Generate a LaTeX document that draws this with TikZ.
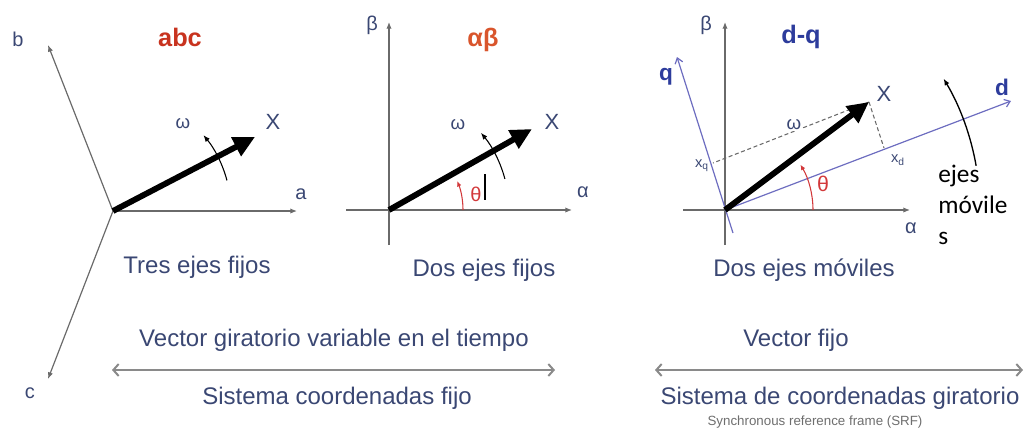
\documentclass[tikz,border=0pt]{standalone}
\usepackage{fontspec}
\setmainfont{Liberation Sans}
\newfontfamily\calfont{Carlito}
\usetikzlibrary{arrows.meta,calc}
\definecolor{lbl}{HTML}{3A4773}
\definecolor{axisgray}{HTML}{6A6A6A}
\definecolor{redlbl}{HTML}{C8331F}
\definecolor{orangelbl}{HTML}{D9552C}
\definecolor{bluelbl}{HTML}{2D3C9C}
\definecolor{dqaxis}{HTML}{6D6DC0}
\definecolor{thetared}{HTML}{D2383A}
\definecolor{botgray}{HTML}{8A8A8A}
\tikzset{
  axis/.style={draw=axisgray, line width=0.9pt, -{Latex[length=5pt,width=4pt]}},
  dqax/.style={draw=dqaxis, line width=0.9pt, -{Straight Barb[length=4pt,width=6pt]}},
  vec/.style={line width=4.4pt, -{Triangle[length=16pt,width=15pt]}},
  rot/.style={line width=0.8pt, -{Latex[length=5pt,width=4pt]}},
  thetaarc/.style={draw=thetared, line width=0.8pt, -{Latex[length=4pt,width=3.5pt]}},
  lab/.style={text=lbl, font=\fontsize{15}{17}\selectfont, inner sep=1pt},
  omg/.style={text=lbl, font=\fontsize{14}{16}\selectfont, inner sep=1pt},
  bigx/.style={text=lbl, font=\fontsize{16.5}{19}\selectfont, inner sep=1pt},
  captxt/.style={text=lbl, font=\fontsize{18}{21}\selectfont, inner sep=1pt},
  title/.style={font=\fontsize{19}{22}\selectfont\bfseries, inner sep=1pt},
  bigarr/.style={draw=botgray, line width=1.5pt, {Straight Barb[length=4pt,width=9pt]}-{Straight Barb[length=4pt,width=9pt]}},
}
\begin{document}
\begin{tikzpicture}[x=0.75pt,y=-0.75pt]
\useasboundingbox (0,0) rectangle (1026,437);
% ---------- panel 1: abc ----------
\coordinate (O1) at (113,211);
\coordinate (A1) at (297,211);
\coordinate (B1) at (48,45);
\coordinate (C1) at (48,379);
\coordinate (X1) at (255,137);
\draw[axis] (O1) -- (A1);
\draw[axis] (O1) -- (B1);
\draw[axis] (O1) -- (C1);
\draw[vec] (O1) -- (X1);
\draw[rot] ($(O1)+(-15:118)$) arc[start angle=-15, end angle=-40, radius=118];
\node[lab] (la) at (301,194) {a};
\node[lab] (lb) at (18,39) {b};
\node[lab] (lc) at (30,393) {c};
\node[bigx] (lX1) at (273,122) {X};
\node[omg] (lw1) at (183,124) {ω};
\node[title, text=redlbl] (t1) at (180,37) {abc};
\node[captxt] (cap1) at (197,267) {Tres ejes fijos};
% ---------- panel 2: alpha beta ----------
\coordinate (O2) at (389,210);
\coordinate (A2s) at (346,210);
\coordinate (A2) at (572,210);
\coordinate (B2s) at (389,245);
\coordinate (B2) at (389,22);
\coordinate (X2) at (532,129);
\draw[axis] (A2s) -- (A2);
\draw[axis] (B2s) -- (B2);
\draw[vec] (O2) -- (X2);
\draw[rot] ($(O2)+(-15:120)$) arc[start angle=-15, end angle=-40, radius=120];
\draw[thetaarc] ($(O2)+(0:74)$) arc[start angle=0, end angle=-23, radius=74];
\coordinate (tk1) at (485,174);
\coordinate (tk2) at (485,200);
\draw[line width=0.8pt] (tk1) -- (tk2);
\node[lab, text=thetared] (th2) at (476,194) {θ};
\node[lab] (lal2) at (583,192) {α};
\node[lab] (lbe2) at (372,25) {β};
\node[bigx] (lX2) at (552,122) {X};
\node[omg] (lw2) at (458,125) {ω};
\node[title, text=orangelbl] (t2) at (483,40) {αβ};
\node[captxt] (cap2) at (484,270) {Dos ejes fijos};
% ---------- panel 3: d-q ----------
\coordinate (O3) at (725,210);
\coordinate (A3s) at (683,210);
\coordinate (A3) at (910,210);
\coordinate (B3s) at (725,245);
\coordinate (B3) at (725,22);
\coordinate (D3) at (1011,101);
\coordinate (Q3s) at (733,233);
\coordinate (Q3) at (677,57);
\coordinate (X3) at (869,102);
\coordinate (Xd) at (884,148);
\coordinate (Xq) at (713,163);
\draw[axis] (A3s) -- (A3);
\draw[axis] (B3s) -- (B3);
\draw[dqax] (O3) -- (D3);
\draw[dqax] (Q3s) -- (Q3);
\draw[draw=axisgray, line width=0.8pt, dash pattern=on 3pt off 2pt] (X3) -- (Xd);
\draw[draw=axisgray, line width=0.8pt, dash pattern=on 3pt off 2pt] (X3) -- (Xq);
\draw[vec] (O3) -- (X3);
\draw[thetaarc] ($(O3)+(0:88)$) arc[start angle=0, end angle=-31, radius=88];
\draw[rot, line width=1pt] ($(O3)+(-10:255)$) arc[start angle=-10, end angle=-31, radius=255];
\node[omg, fill=white, inner sep=0.5pt] (lw3) at (794,125) {ω};
\node[lab, text=thetared, font=\fontsize{16}{18}\selectfont] (th3) at (823,184) {θ};
\node[lab] (lal3) at (911,228) {α};
\node[lab] (lbe3) at (706,25) {β};
\node[bigx] (lX3) at (884,94) {X};
\node[lab, font=\fontsize{11}{13}\selectfont] (lxd) at (898,160) {x\textsubscript{d}};
\node[lab, font=\fontsize{11}{13}\selectfont] (lxq) at (702,166) {x\textsubscript{q}};
\node[title, text=bluelbl, font=\fontsize{17}{20}\selectfont\bfseries] (lq) at (666,77) {q};
\node[title, text=bluelbl, font=\fontsize{17}{20}\selectfont\bfseries] (ld) at (1002,87) {d};
\node[title, text=bluelbl] (t3) at (801,37) {d-q};
\node[font=\fontsize{19}{23}\selectfont\calfont, align=left, anchor=north west, inner sep=0pt] (ejes) at (938,165) {ejes\\móvile\\s};
\node[captxt] (cap3) at (804,270) {Dos ejes móviles};
% ---------- bottom ----------
\coordinate (L1) at (112,370);
\coordinate (R1) at (555,370);
\coordinate (L2) at (655,370);
\coordinate (R2) at (1023,370);
\draw[bigarr] (L1) -- (R1);
\draw[bigarr] (L2) -- (R2);
\node[captxt] (b1) at (334,340) {Vector giratorio variable en el tiempo};
\node[captxt] (b2) at (337,398) {Sistema coordenadas fijo};
\node[captxt] (b3) at (796,340) {Vector fijo};
\node[captxt] (b4) at (840,398) {Sistema de coordenadas giratorio};
\node[text=botgray!80!black, font=\fontsize{10}{12}\selectfont, inner sep=0pt] (b5) at (815,422) {Synchronous reference frame (SRF)};
\end{tikzpicture}
\end{document}
